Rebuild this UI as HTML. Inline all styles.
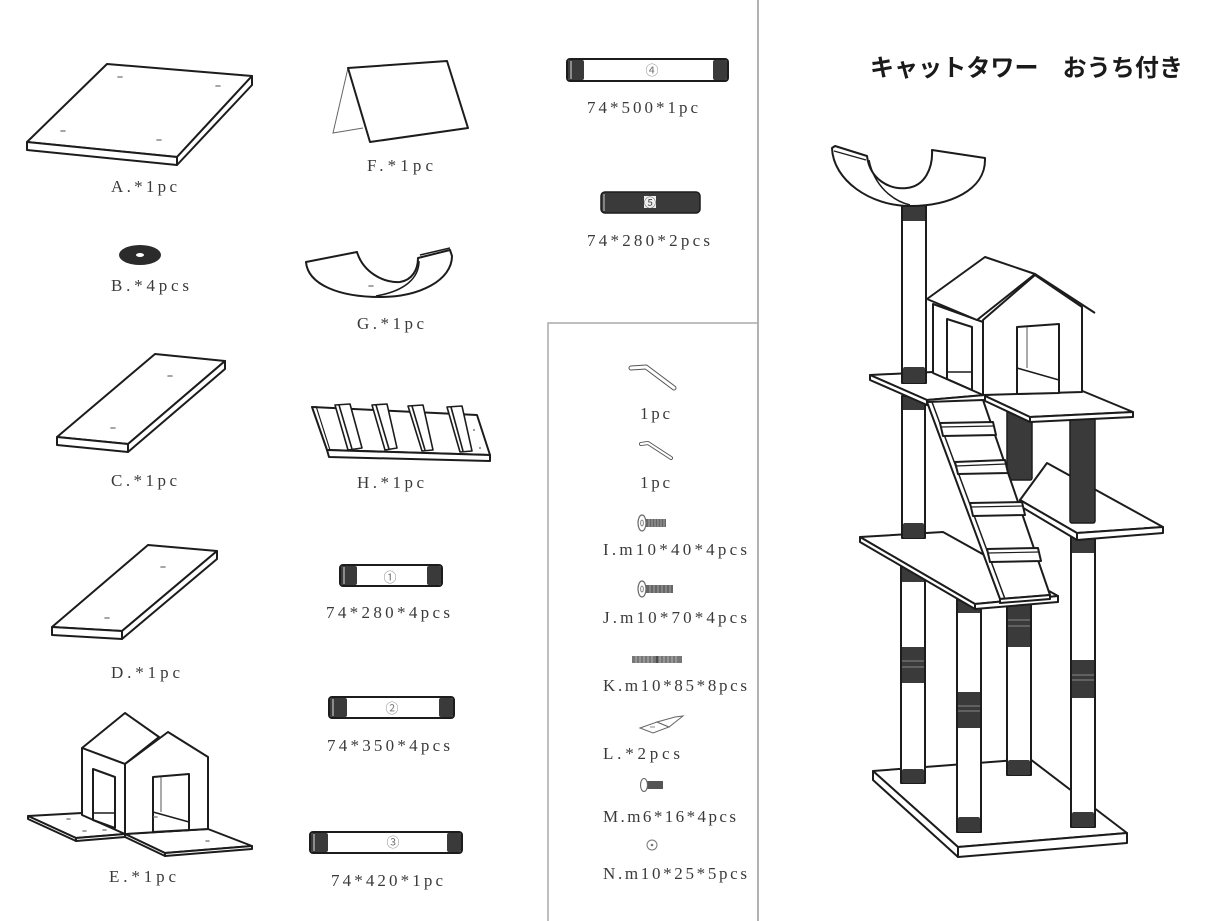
<!DOCTYPE html>
<html><head><meta charset="utf-8"><style>
html,body{margin:0;padding:0;background:#fff;}
svg{display:block;}
.t{font-family:"Liberation Serif","Noto Serif CJK SC",serif;font-size:17px;fill:#3a3a3a;}
.o{fill:#fff;stroke:#1c1c1c;stroke-width:2;stroke-linejoin:round;}
.d{fill:#3a3a3a;}
.h{stroke:#888;stroke-width:1.6;stroke-linecap:round;}
.g{fill:none;stroke:#666;stroke-width:1;}
</style></head><body>
<svg width="1232" height="921" viewBox="0 0 1232 921" xmlns="http://www.w3.org/2000/svg">
<!-- separators -->
<line x1="758" y1="0" x2="758" y2="921" stroke="#999" stroke-width="1.5"/>
<polyline points="548,921 548,323 758,323" fill="none" stroke="#aaa" stroke-width="1.5"/>

<!-- A board -->
<polygon class="o" points="107,64 252,76 177,157 27,142"/>
<polygon class="o" points="27,142 177,157 177,165 27,150"/>
<polygon class="o" points="177,157 252,76 252,85 177,165"/>
<line class="h" x1="118" y1="77" x2="122" y2="77"/><line class="h" x1="216" y1="86" x2="220" y2="86"/>
<line class="h" x1="61" y1="131" x2="65" y2="131"/><line class="h" x1="157" y1="140" x2="161" y2="140"/>
<text class="t" x="111" y="192" textLength="66" lengthAdjust="spacing">A.*1pc</text>

<!-- F -->
<polyline points="348,68 333,133 363,128" fill="none" stroke="#666" stroke-width="1"/>
<polygon class="o" points="348,68 447,61 468,128 370,142"/>
<text class="t" x="367" y="171" textLength="66" lengthAdjust="spacing">F.*1pc</text>

<!-- B washer -->
<ellipse cx="140" cy="255" rx="21" ry="10" fill="#2b2b2b"/>
<ellipse cx="140" cy="255" rx="4" ry="2" fill="#fff"/>
<text class="t" x="111" y="291" textLength="78" lengthAdjust="spacing">B.*4pcs</text>

<!-- G -->
<path class="o" d="M306,262 L357,252 C363,272 383,283 400,282 C412,280 418,270 418,258 L450,250 L452,256 C452,280 420,297 380,297 C340,297 308,285 306,262 Z"/>
<path d="M419,261 C419,278 405,291 376,296" fill="none" stroke="#1c1c1c" stroke-width="1.5"/>
<line x1="420" y1="255" x2="450" y2="248" stroke="#1c1c1c" stroke-width="1.5"/>
<line class="h" x1="369" y1="286" x2="373" y2="286"/>
<text class="t" x="357" y="329" textLength="67" lengthAdjust="spacing">G.*1pc</text>

<!-- C board -->
<polygon class="o" points="155,354 225,361 128,444 57,437"/>
<polygon class="o" points="57,437 128,444 128,452 57,445"/>
<polygon class="o" points="128,444 225,361 225,369 128,452"/>
<line class="h" x1="168" y1="376" x2="172" y2="376"/><line class="h" x1="111" y1="428" x2="115" y2="428"/>
<text class="t" x="111" y="486" textLength="66" lengthAdjust="spacing">C.*1pc</text>

<!-- H ladder -->
<polygon class="o" points="312,407 477,415 490,455 327,450"/>
<polygon class="o" points="327,450 490,455 490,461 329,457"/>
<line x1="316" y1="406" x2="330" y2="450" stroke="#1c1c1c" stroke-width="1.2"/>
<g stroke="#1c1c1c" stroke-width="1.6" fill="#fff" stroke-linejoin="round">
<polygon points="335,405 350,404 362,448 348,450"/><line x1="339" y1="405" x2="352" y2="449"/>
<polygon points="372,405 387,404 397,448 385,450"/><line x1="376" y1="405" x2="389" y2="449"/>
<polygon points="408,406 423,405 433,450 422,451"/><line x1="412" y1="406" x2="425" y2="450"/>
<polygon points="447,407 462,406 472,451 460,452"/><line x1="451" y1="407" x2="463" y2="451"/>
</g>
<circle cx="474" cy="430" r="0.9" fill="#555"/><circle cx="480" cy="448" r="0.9" fill="#555"/>
<text class="t" x="357" y="488" textLength="67" lengthAdjust="spacing">H.*1pc</text>

<!-- D board -->
<polygon class="o" points="148,545 217,551 122,631 52,627"/>
<polygon class="o" points="52,627 122,631 122,639 52,635"/>
<polygon class="o" points="122,631 217,551 217,559 122,639"/>
<line class="h" x1="161" y1="567" x2="165" y2="567"/><line class="h" x1="105" y1="618" x2="109" y2="618"/>
<text class="t" x="111" y="678" textLength="69" lengthAdjust="spacing">D.*1pc</text>

<!-- horizontal posts -->
<g>
<rect class="o" x="340" y="565" width="102" height="21" rx="3"/>
<rect class="d" x="341" y="566" width="16" height="19" rx="2"/><rect class="d" x="427" y="566" width="14" height="19" rx="2"/>
<line x1="344" y1="567" x2="344" y2="584" stroke="#ddd" stroke-width="1"/>
<text x="390" y="582" font-family="Noto Sans CJK JP, DejaVu Sans, sans-serif" font-size="13" fill="#777" text-anchor="middle">①</text>
</g>
<text class="t" x="326" y="618" textLength="124" lengthAdjust="spacing">74*280*4pcs</text>

<g>
<rect class="o" x="329" y="697" width="125" height="21" rx="3"/>
<rect class="d" x="330" y="698" width="17" height="19" rx="2"/><rect class="d" x="439" y="698" width="14" height="19" rx="2"/>
<line x1="333" y1="699" x2="333" y2="716" stroke="#ddd" stroke-width="1"/>
<text x="392" y="713" font-family="Noto Sans CJK JP, DejaVu Sans, sans-serif" font-size="13" fill="#777" text-anchor="middle">②</text>
</g>
<text class="t" x="327" y="751" textLength="123" lengthAdjust="spacing">74*350*4pcs</text>

<g>
<rect class="o" x="310" y="832" width="152" height="21" rx="3"/>
<rect class="d" x="311" y="833" width="17" height="19" rx="2"/><rect class="d" x="447" y="833" width="14" height="19" rx="2"/>
<line x1="314" y1="834" x2="314" y2="851" stroke="#ddd" stroke-width="1"/>
<text x="393" y="847" font-family="Noto Sans CJK JP, DejaVu Sans, sans-serif" font-size="13" fill="#777" text-anchor="middle">③</text>
</g>
<text class="t" x="331" y="886" textLength="112" lengthAdjust="spacing">74*420*1pc</text>

<g>
<rect class="o" x="567" y="59" width="161" height="22" rx="3"/>
<rect class="d" x="568" y="60" width="16" height="20" rx="2"/><rect class="d" x="713" y="60" width="14" height="20" rx="2"/>
<line x1="571" y1="61" x2="571" y2="79" stroke="#ddd" stroke-width="1"/>
<text x="652" y="75" font-family="Noto Sans CJK JP, DejaVu Sans, sans-serif" font-size="13" fill="#777" text-anchor="middle">④</text>
</g>
<text class="t" x="587" y="113" textLength="111" lengthAdjust="spacing">74*500*1pc</text>

<g>
<rect x="601" y="192" width="99" height="21" rx="4" fill="#3a3a3a" stroke="#1c1c1c" stroke-width="1.5"/>
<line x1="604" y1="194" x2="604" y2="211" stroke="#ccc" stroke-width="1"/>
<rect x="644" y="196" width="12" height="12" fill="#eee"/>
<text x="650" y="207" font-family="Noto Sans CJK JP, DejaVu Sans, sans-serif" font-size="12" fill="#444" text-anchor="middle">⑤</text>
</g>
<text class="t" x="587" y="246" textLength="123" lengthAdjust="spacing">74*280*2pcs</text>

<!-- hardware -->
<path d="M631,368 L646,367 L674,388" fill="none" stroke="#555" stroke-width="5" stroke-linecap="round" stroke-linejoin="round"/>
<path d="M631,368 L646,367 L674,388" fill="none" stroke="#fff" stroke-width="3" stroke-linecap="round" stroke-linejoin="round"/>
<text class="t" x="640" y="419" textLength="30" lengthAdjust="spacing">1pc</text>
<path d="M641,444 L648,443 L671,458" fill="none" stroke="#555" stroke-width="4" stroke-linecap="round" stroke-linejoin="round"/>
<path d="M641,444 L648,443 L671,458" fill="none" stroke="#fff" stroke-width="2.2" stroke-linecap="round" stroke-linejoin="round"/>
<text class="t" x="640" y="488" textLength="30" lengthAdjust="spacing">1pc</text>

<rect x="646" y="519" width="20" height="8" fill="#666"/>
<g stroke="#ccc" stroke-width="0.6"><line x1="649" y1="519" x2="649" y2="527"/><line x1="652" y1="519" x2="652" y2="527"/><line x1="655" y1="519" x2="655" y2="527"/><line x1="658" y1="519" x2="658" y2="527"/><line x1="661" y1="519" x2="661" y2="527"/><line x1="664" y1="519" x2="664" y2="527"/></g>
<ellipse cx="642" cy="523" rx="4" ry="8" fill="#fff" stroke="#666" stroke-width="1.2"/><ellipse cx="642" cy="523" rx="1.3" ry="3" fill="none" stroke="#666" stroke-width="0.8"/>
<text class="t" x="603" y="555" textLength="144" lengthAdjust="spacing">I.m10*40*4pcs</text>

<rect x="646" y="585" width="27" height="8" fill="#666"/>
<g stroke="#ccc" stroke-width="0.6"><line x1="650" y1="585" x2="650" y2="593"/><line x1="654" y1="585" x2="654" y2="593"/><line x1="658" y1="585" x2="658" y2="593"/><line x1="662" y1="585" x2="662" y2="593"/><line x1="666" y1="585" x2="666" y2="593"/><line x1="670" y1="585" x2="670" y2="593"/></g>
<ellipse cx="642" cy="589" rx="4" ry="8" fill="#fff" stroke="#666" stroke-width="1.2"/><ellipse cx="642" cy="589" rx="1.3" ry="3" fill="none" stroke="#666" stroke-width="0.8"/>
<text class="t" x="603" y="623" textLength="144" lengthAdjust="spacing">J.m10*70*4pcs</text>

<rect x="632" y="656" width="50" height="7" fill="#777"/>
<g stroke="#ddd" stroke-width="0.6"><line x1="636" y1="656" x2="636" y2="663"/><line x1="640" y1="656" x2="640" y2="663"/><line x1="644" y1="656" x2="644" y2="663"/><line x1="648" y1="656" x2="648" y2="663"/><line x1="652" y1="656" x2="652" y2="663"/><line x1="660" y1="656" x2="660" y2="663"/><line x1="664" y1="656" x2="664" y2="663"/><line x1="668" y1="656" x2="668" y2="663"/><line x1="672" y1="656" x2="672" y2="663"/><line x1="676" y1="656" x2="676" y2="663"/></g>
<line x1="657" y1="656" x2="657" y2="663" stroke="#333" stroke-width="1.2"/>
<text class="t" x="603" y="691" textLength="144" lengthAdjust="spacing">K.m10*85*8pcs</text>

<g fill="#fff" stroke="#666" stroke-width="1">
<polygon points="640,728 657,722 669,727 653,733"/>
<polygon points="669,727 657,722 675,717 683,716"/>
</g>
<line x1="650" y1="727" x2="655" y2="727" stroke="#888" stroke-width="1"/>
<text class="t" x="603" y="759" textLength="77" lengthAdjust="spacing">L.*2pcs</text>

<rect x="647" y="781" width="16" height="8" fill="#555"/>
<ellipse cx="644" cy="785" rx="3.5" ry="6.5" fill="#fff" stroke="#666" stroke-width="1.1"/>
<text class="t" x="603" y="822" textLength="133" lengthAdjust="spacing">M.m6*16*4pcs</text>

<circle cx="652" cy="845" r="5" fill="#fff" stroke="#777" stroke-width="1"/><circle cx="652" cy="845" r="1.3" fill="#777"/>
<text class="t" x="603" y="879" textLength="144" lengthAdjust="spacing">N.m10*25*5pcs</text>

<!-- E house -->
<polygon class="o" points="28,816 82,813 125,834 76,838"/>
<polygon class="o" points="28,816 76,838 76,841 28,819" stroke-width="1.5"/>
<polygon class="o" points="76,838 125,834 125,837 76,841" stroke-width="1.5"/>
<polygon class="o" points="125,834 208,829 252,846 165,853"/>
<polygon class="o" points="125,834 165,853 165,856 125,837" stroke-width="1.5"/>
<polygon class="o" points="165,853 252,846 252,849 165,856" stroke-width="1.5"/>
<polygon class="o" points="82,748 125,713 159,737 125,764"/>
<polygon class="o" points="82,748 125,764 125,834 82,815"/>
<polygon class="o" points="125,764 168,732 208,757 208,829 125,834"/>
<polygon class="o" points="93,769 115,777 115,828 93,820"/>
<line x1="93" y1="813" x2="115" y2="813" stroke="#1c1c1c" stroke-width="1.5"/>
<polygon class="o" points="153,777 189,774 189,830 153,832"/>
<line x1="161" y1="777" x2="161" y2="812" stroke="#555" stroke-width="1"/>
<line x1="153" y1="812" x2="189" y2="822" stroke="#1c1c1c" stroke-width="1.5"/>
<g class="h"><line x1="67" y1="819" x2="70" y2="819"/><line x1="83" y1="831" x2="86" y2="831"/><line x1="103" y1="830" x2="106" y2="830"/><line x1="206" y1="841" x2="209" y2="841"/><line x1="154" y1="817" x2="157" y2="817"/></g>
<text class="t" x="109" y="882" textLength="67" lengthAdjust="spacing">E.*1pc</text>

<!-- Title -->
<text x="870" y="76" font-family="Liberation Sans, Noto Sans CJK JP, sans-serif" font-size="24" font-weight="bold" fill="#1a1a1a" textLength="313" lengthAdjust="spacing">キャットタワー　おうち付き</text>

<!-- Tower -->
<!-- base -->
<polygon class="o" points="873,771 1030,759 1127,833 958,847"/>
<polygon class="o" points="873,771 958,847 958,857 873,780"/>
<polygon class="o" points="958,847 1127,833 1127,843 958,857"/>

<!-- lower posts -->
<g>
<rect class="o" x="901" y="560" width="24" height="223"/>
<rect class="d" x="902" y="561" width="22" height="21"/>
<rect class="d" x="902" y="647" width="22" height="36"/>
<line x1="902" y1="661" x2="924" y2="661" stroke="#888" stroke-width="1"/><line x1="902" y1="667" x2="924" y2="667" stroke="#888" stroke-width="1"/>
<rect class="d" x="902" y="769" width="22" height="14" rx="2"/>
</g>
<g>
<rect class="o" x="1007" y="595" width="24" height="180"/>
<rect class="d" x="1008" y="596" width="22" height="51"/>
<line x1="1008" y1="620" x2="1030" y2="620" stroke="#888" stroke-width="1"/><line x1="1008" y1="626" x2="1030" y2="626" stroke="#888" stroke-width="1"/>
<rect class="d" x="1008" y="760" width="22" height="15" rx="2"/>
</g>
<g>
<rect class="o" x="1071" y="530" width="24" height="297"/>
<rect class="d" x="1072" y="531" width="22" height="22"/>
<rect class="d" x="1072" y="660" width="22" height="38"/>
<line x1="1072" y1="675" x2="1094" y2="675" stroke="#888" stroke-width="1"/><line x1="1072" y1="680" x2="1094" y2="680" stroke="#888" stroke-width="1"/>
<rect class="d" x="1072" y="812" width="22" height="15" rx="2"/>
</g>
<g>
<rect class="o" x="957" y="598" width="24" height="234"/>
<rect class="d" x="958" y="599" width="22" height="14"/>
<rect class="d" x="958" y="692" width="22" height="36"/>
<line x1="958" y1="706" x2="980" y2="706" stroke="#888" stroke-width="1"/><line x1="958" y1="711" x2="980" y2="711" stroke="#888" stroke-width="1"/>
<rect class="d" x="958" y="817" width="22" height="15" rx="2"/>
</g>

<!-- level 2 platforms -->
<polygon class="o" points="1047,463 1163,527 1077,533 1020,500"/>
<polygon class="o" points="1020,500 1077,533 1077,540 1020,506"/>
<polygon class="o" points="1077,533 1163,527 1163,533 1077,540"/>
<polygon class="o" points="860,537 943,532 1058,596 975,604"/>
<polygon class="o" points="860,537 975,604 975,609 860,542"/>
<polygon class="o" points="975,604 1058,596 1058,602 975,609"/>

<!-- upper posts -->
<g>
<rect class="o" x="902" y="396" width="23" height="142"/>
<rect class="d" x="903" y="397" width="21" height="13"/>
<rect class="d" x="903" y="523" width="21" height="15" rx="2"/>
</g>
<rect x="1007" y="405" width="25" height="75" rx="2" fill="#3a3a3a" stroke="#1c1c1c" stroke-width="1.5"/>
<rect x="1070" y="410" width="25" height="113" rx="2" fill="#3a3a3a" stroke="#1c1c1c" stroke-width="1.5"/>

<!-- level 1 platforms -->
<polygon class="o" points="983,395 1080,390 1133,412 1030,417"/>
<polygon class="o" points="983,395 1030,417 1030,422 983,400"/>
<polygon class="o" points="1030,417 1133,412 1133,417 1030,422"/>
<polygon class="o" points="870,375 933,372 985,395 927,400"/>
<polygon class="o" points="870,375 927,400 927,405 870,380"/>
<polygon class="o" points="927,400 985,395 985,400 927,405"/>

<!-- top post -->
<rect class="o" x="902" y="205" width="24" height="178"/>
<rect class="d" x="903" y="206" width="22" height="15"/>
<rect class="d" x="903" y="367" width="22" height="16" rx="2"/>

<!-- house -->
<polygon class="o" points="933,304 983,322 983,395 933,373"/>
<polygon class="o" points="947,319 972,327 972,390 947,379"/>
<line x1="947" y1="372" x2="972" y2="372" stroke="#1c1c1c" stroke-width="1.5"/>
<polygon class="o" points="983,320 1035,275 1082,307 1082,392 983,395"/>
<polygon class="o" points="927,299 985,257 1035,274 977,320"/>
<line x1="1035" y1="274" x2="1095" y2="313" stroke="#1c1c1c" stroke-width="2"/>
<polygon class="o" points="1017,327 1059,324 1059,393 1017,394"/>
<line x1="1027" y1="327" x2="1027" y2="368" stroke="#555" stroke-width="1"/>
<line x1="1017" y1="368" x2="1059" y2="380" stroke="#1c1c1c" stroke-width="1.5"/>

<!-- bowl -->
<path class="o" d="M832,148 L835,146 L867,156 C870,180 890,190 907,188 C925,186 933,168 932,150 L985,158 L985,160 C985,190 950,206 910,206 C870,206 833,180 832,148 Z"/>
<path d="M869,160 C874,186 893,201 910,205" fill="none" stroke="#1c1c1c" stroke-width="1.5"/>
<line x1="834" y1="151" x2="866" y2="160" stroke="#1c1c1c" stroke-width="1.2"/>

<!-- ladder -->
<polygon class="o" points="927,402 983,400 1050,595 1000,599"/>
<line x1="932" y1="402" x2="1005" y2="599" stroke="#1c1c1c" stroke-width="1.5"/>
<polygon class="o" points="1000,599 1050,595 1050,599 1000,603" stroke-width="1.5"/>
<g class="o" stroke-width="1.6">
<polygon points="940,423 993,422 996,435 943,436"/>
<polygon points="955,462 1005,460 1008,473 958,474"/>
<polygon points="970,503 1022,502 1025,515 973,516"/>
<polygon points="987,549 1038,548 1041,561 990,562"/>
</g>
<g stroke="#1c1c1c" stroke-width="1.2">
<line x1="941" y1="427" x2="994" y2="426"/>
<line x1="956" y1="466" x2="1006" y2="464"/>
<line x1="971" y1="507" x2="1023" y2="506"/>
<line x1="988" y1="553" x2="1039" y2="552"/>
</g>
</svg>
</body></html>
